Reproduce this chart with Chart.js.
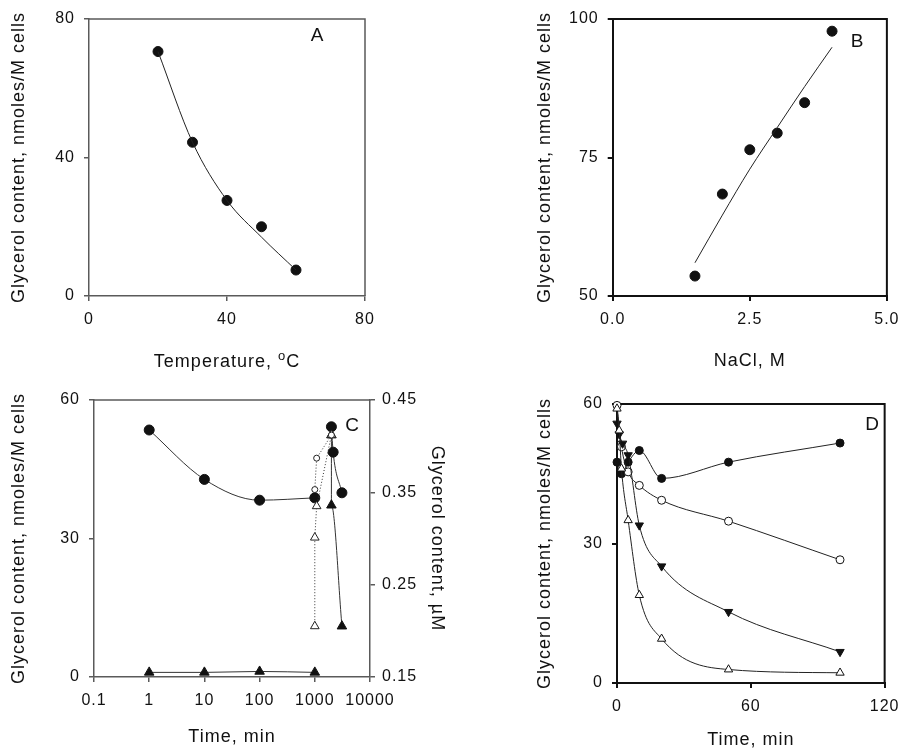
<!DOCTYPE html>
<html><head><meta charset="utf-8">
<script src="https://cdn.jsdelivr.net/npm/chart.js@4/dist/chart.umd.min.js"></script>
<style>
html,body{margin:0;padding:0;background:#fff;}
#wrap{position:relative;width:907px;height:752px;overflow:hidden;}
canvas{position:absolute;left:0;top:0;}
</style></head><body>
<div id="wrap">
<canvas id="cA" width="907" height="752"></canvas>
<canvas id="cB" width="907" height="752"></canvas>
<canvas id="cC" width="907" height="752"></canvas>
<canvas id="cD" width="907" height="752"></canvas>
</div>
<script>
// ---------- DATA ----------
// Panel A
const tempA = [20, 30, 40, 50, 60];
const glyA = [70.6, 44.4, 27.6, 20.0, 7.5];
const fitA = [70.6, 44.4, 27.6, 17.0, 7.5];
const ticksAx = [0, 40, 80];
const ticksAy = [0, 40, 80];
// Panel B
const naclB = [1.5, 2.0, 2.5, 3.0, 3.5, 4.0];
const glyB = [53.6, 68.4, 76.4, 79.4, 84.9, 97.8];
const fitB = [56.0, 64.6, 72.9, 80.4, 87.8, 94.9];
const ticksBx = [0, 2.5, 5.0];
const ticksBy = [50, 75, 100];
// Panel C (filled circles: left axis; triangles & open circles: right axis)
const timeC_fc1 = [1, 10, 100, 1000];
const valC_fc1 = [53.5, 42.8, 38.3, 38.8];
const timeC_fc2 = [2000, 2150, 3100];
const valC_fc2 = [54.2, 48.7, 39.9];
const timeC_ft1 = [1, 10, 100, 1000];
const valC_ft1 = [0.155, 0.155, 0.156, 0.155];
const timeC_ft2 = [2000, 2000, 3100];
const valC_ft2 = [0.412, 0.336, 0.205];
const timeC_ot = [1000, 1000, 1080, 2000];
const valC_ot = [0.205, 0.301, 0.335, 0.412];
const timeC_oc = [1000, 1080, 2000];
const valC_oc = [0.353, 0.387, 0.412];
const ticksCx = [0.1, 1, 10, 100, 1000, 10000];
const ticksCy = [0, 30, 60];
const ticksCy2 = [0.15, 0.25, 0.35, 0.45];
// Panel D
const timeD_fc = [0, 2, 5, 10, 20, 50, 100];
const valD_fc = [47.5, 45.0, 47.5, 50.0, 44.0, 47.5, 51.6];
const timeD_oc = [0, 2, 5, 10, 20, 50, 100];
const valD_oc = [59.7, 50.8, 45.4, 42.5, 39.3, 34.8, 26.5];
const timeD_ft = [0, 1, 2.5, 5, 10, 20, 50, 100];
const valD_ft = [55.8, 53.5, 51.5, 49.0, 33.9, 25.1, 15.3, 6.7];
const timeD_ot = [0, 1, 2, 5, 10, 20, 50, 100];
const valD_ot = [59.0, 54.3, 46.1, 35.0, 18.9, 9.5, 2.9, 2.2];
const ticksDx = [0, 60, 120];
const ticksDy = [0, 30, 60];

// ---------- HELPERS ----------
const FONT = "'Liberation Sans', Arial, Helvetica, sans-serif";
Chart.defaults.font.family = FONT;
Chart.defaults.color = '#111';
Chart.defaults.animation = false;

function xy(xs, ys) { return xs.map((x, i) => ({ x: x, y: ys[i] })); }

const spacing = { id: 'spacing', beforeDraw(c) { c.ctx.letterSpacing = '1px'; } };

const frame = {
  id: 'frame',
  beforeDatasetsDraw(c, a, o) {
    const { left, top, right, bottom } = c.chartArea;
    const ctx = c.ctx;
    ctx.save();
    ctx.strokeStyle = o.color; ctx.lineWidth = o.width;
    ctx.beginPath();
    if (o.top) { ctx.moveTo(left - o.width / 2, top); ctx.lineTo(right + o.width / 2, top); }
    if (o.right) { ctx.moveTo(right, top); ctx.lineTo(right, bottom); }
    ctx.stroke();
    ctx.restore();
  }
};

const letter = {
  id: 'letter',
  afterDraw(c, a, o) {
    const ctx = c.ctx;
    ctx.save();
    ctx.letterSpacing = '0px';
    ctx.font = o.size + 'px ' + FONT;
    ctx.fillStyle = '#111';
    ctx.textAlign = 'center'; ctx.textBaseline = 'middle';
    ctx.fillText(o.text, o.x, o.y);
    if (o.sup) {
      ctx.letterSpacing = '1px';
      const s = o.sup;
      ctx.font = s.size + 'px ' + FONT;
      const w1 = ctx.measureText(s.a).width;
      ctx.font = s.supSize + 'px ' + FONT;
      const w2 = ctx.measureText(s.o).width;
      ctx.font = s.size + 'px ' + FONT;
      const w3 = ctx.measureText(s.c).width;
      let x = s.x - (w1 + w2 + w3) / 2;
      ctx.textAlign = 'left'; ctx.textBaseline = 'alphabetic';
      ctx.fillText(s.a, x, s.y); x += w1;
      ctx.font = s.supSize + 'px ' + FONT;
      ctx.fillText(s.o, x, s.y - 7); x += w2;
      ctx.font = s.size + 'px ' + FONT;
      ctx.fillText(s.c, x, s.y);
    }
    ctx.restore();
  }
};

function axis(o) {
  return {
    type: o.type || 'linear',
    position: o.position,
    min: o.min, max: o.max,
    afterBuildTicks(s) { s.ticks = o.ticks.map(v => ({ value: v })); },
    ticks: {
      autoSkip: false, maxRotation: 0, padding: o.pad,
      font: { size: 16 }, color: '#111',
      callback: o.fmt || (v => String(v))
    },
    grid: { drawOnChartArea: false, drawTicks: true, tickLength: 5, color: o.color, tickColor: o.color, lineWidth: o.lw },
    border: { display: true, color: o.color, width: o.lw },
    title: o.title ? { display: true, text: o.title, font: { size: 18 }, color: '#111', padding: 0 } : { display: false },
    afterFit(s) { if (o.w !== undefined) s.width = o.w; if (o.h !== undefined) s.height = o.h; }
  };
}

const yTitle = 'Glycerol content, nmoles/M cells';
const dot = (c) => ({ showLine: false, pointRadius: 5, pointStyle: 'circle', pointBackgroundColor: c, pointBorderColor: c, pointBorderWidth: 1, clip: false });

function baseOptions(pad, scales, plugins) {
  return {
    responsive: false, animation: false, events: [],
    layout: { padding: pad },
    plugins: Object.assign({ legend: { display: false }, tooltip: { enabled: false } }, plugins),
    scales: scales
  };
}

// ---------- PANEL A ----------
new Chart(document.getElementById('cA'), {
  type: 'scatter',
  data: { datasets: [
    { data: xy(tempA, fitA), showLine: true, pointRadius: 0, borderColor: '#222', borderWidth: 1, cubicInterpolationMode: 'monotone', clip: false },
    Object.assign({ data: xy(tempA, glyA) }, dot('#111'))
  ] },
  options: baseOptions({ left: 8.2, top: 19, right: 542, bottom: 380.2 }, {
    x: axis({ position: 'bottom', min: 0, max: 80, ticks: ticksAx, pad: 9, color: '#5a5a5a', lw: 1.5, h: 75.8 }),
    y: axis({ position: 'left', min: 0, max: 80, ticks: ticksAy, pad: 9, color: '#5a5a5a', lw: 1.5, w: 80.8, title: yTitle })
  }, {
    frame: { top: true, right: true, color: '#5a5a5a', width: 1.5 },
    letter: { text: 'A', x: 317, y: 36, size: 19, sup: { a: 'Temperature, ', o: 'o', c: 'C', x: 227, y: 367, size: 18, supSize: 13 } }
  }),
  plugins: [spacing, frame, letter]
});

// ---------- PANEL B ----------
new Chart(document.getElementById('cB'), {
  type: 'scatter',
  data: { datasets: [
    { data: xy(naclB, fitB), showLine: true, pointRadius: 0, borderColor: '#222', borderWidth: 1, cubicInterpolationMode: 'monotone', clip: false },
    Object.assign({ data: xy(naclB, glyB) }, dot('#111'))
  ] },
  options: baseOptions({ left: 534.2, top: 19, right: 19.7, bottom: 380.2 }, {
    x: axis({ position: 'bottom', min: 0, max: 5, ticks: ticksBx, pad: 9, color: '#111', lw: 2, h: 75.8, title: 'NaCl, M', fmt: v => v.toFixed(1) }),
    y: axis({ position: 'left', min: 50, max: 100, ticks: ticksBy, pad: 9, color: '#111', lw: 2, w: 78.5, title: yTitle })
  }, {
    frame: { top: true, right: true, color: '#111', width: 2 },
    letter: { text: 'B', x: 857, y: 42, size: 19 }
  }),
  plugins: [spacing, frame, letter]
});

// ---------- PANEL C ----------
const openC = { showLine: true, borderColor: '#333', borderWidth: 1, borderDash: [1, 2], pointBackgroundColor: '#fff', pointBorderColor: '#222', pointBorderWidth: 1, clip: false };
const solidC = { showLine: true, borderColor: '#333', borderWidth: 1, cubicInterpolationMode: 'monotone', pointBackgroundColor: '#111', pointBorderColor: '#111', clip: false };
new Chart(document.getElementById('cC'), {
  type: 'scatter',
  data: { datasets: [
    Object.assign({ data: xy(timeC_oc, valC_oc), yAxisID: 'y2', pointRadius: 3 }, openC),
    Object.assign({ data: xy(timeC_ot, valC_ot), yAxisID: 'y2', pointStyle: 'triangle', pointRadius: 5 }, openC),
    Object.assign({ data: xy(timeC_fc1, valC_fc1), yAxisID: 'y', pointRadius: 5 }, solidC),
    Object.assign({ data: xy(timeC_fc2, valC_fc2), yAxisID: 'y', pointRadius: 5 }, solidC),
    Object.assign({ data: xy(timeC_ft1, valC_ft1), yAxisID: 'y2', pointStyle: 'triangle', pointRadius: 5.5 }, solidC),
    Object.assign({ data: xy(timeC_ft2, valC_ft2), yAxisID: 'y2', pointStyle: 'triangle', pointRadius: 5.5, cubicInterpolationMode: 'default' }, solidC)
  ] },
  options: baseOptions({ left: 8.2, top: 400, right: 459.2, bottom: 4.2 }, {
    x: axis({ type: 'logarithmic', position: 'bottom', min: 0.1, max: 10000, ticks: ticksCx, pad: 9, color: '#5a5a5a', lw: 1.5, h: 70.8, title: 'Time, min' }),
    y: axis({ position: 'left', min: 0, max: 60, ticks: ticksCy, pad: 9, color: '#5a5a5a', lw: 1.5, w: 85.8, title: yTitle }),
    y2: axis({ position: 'right', min: 0.15, max: 0.45, ticks: ticksCy2, pad: 7, color: '#5a5a5a', lw: 1.5, w: 77.8, title: 'Glycerol content, \u00b5M', fmt: v => v.toFixed(2) })
  }, {
    frame: { top: true, right: false, color: '#5a5a5a', width: 1.5 },
    letter: { text: 'C', x: 352, y: 426, size: 19 }
  }),
  plugins: [spacing, frame, letter]
});

// ---------- PANEL D ----------
const lineD = { showLine: true, borderColor: '#222', borderWidth: 1, cubicInterpolationMode: 'monotone', clip: false, pointBorderWidth: 1 };
new Chart(document.getElementById('cD'), {
  type: 'scatter',
  data: { datasets: [
    Object.assign({ data: xy(timeD_ot, valD_ot), pointStyle: 'triangle', pointRadius: 4.8, pointBackgroundColor: '#fff', pointBorderColor: '#111' }, lineD),
    Object.assign({ data: xy(timeD_ft, valD_ft), pointStyle: 'triangle', rotation: 180, pointRotation: 180, pointRadius: 4.8, pointBackgroundColor: '#111', pointBorderColor: '#111' }, lineD),
    Object.assign({ data: xy(timeD_oc, valD_oc), pointStyle: 'circle', pointRadius: 4, pointBackgroundColor: '#fff', pointBorderColor: '#111' }, lineD),
    Object.assign({ data: xy(timeD_fc, valD_fc), pointStyle: 'circle', pointRadius: 4, pointBackgroundColor: '#111', pointBorderColor: '#111' }, lineD)
  ] },
  options: baseOptions({ left: 534.2, top: 404, right: 14, bottom: 1.2 }, {
    x: axis({ position: 'bottom', min: 0, max: 120, ticks: ticksDx, pad: 9, color: '#111', lw: 2, h: 67.8, title: 'Time, min' }),
    y: axis({ position: 'left', min: 0, max: 60, ticks: ticksDy, pad: 9, color: '#111', lw: 2, w: 82.8, title: yTitle })
  }, {
    frame: { top: true, right: true, color: '#111', width: 2 },
    letter: { text: 'D', x: 872, y: 425, size: 19 }
  }),
  plugins: [spacing, frame, letter]
});
</script>
</body></html>
